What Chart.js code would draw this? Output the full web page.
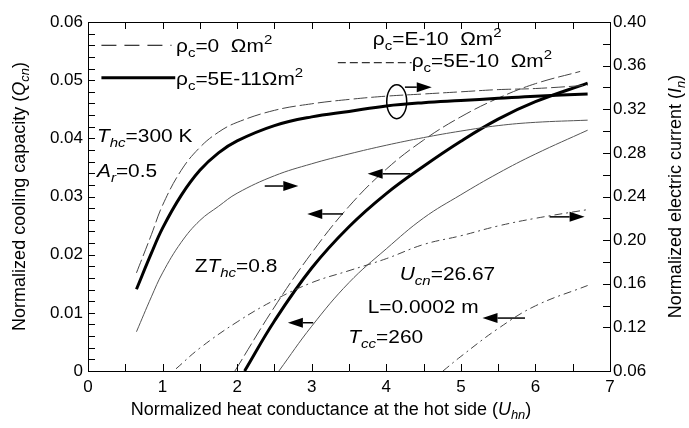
<!DOCTYPE html>
<html lang="en">
<head>
  <meta charset="UTF-8">
  <title>Cooling capacity and electric current vs heat conductance</title>
  <style>
    * { margin: 0; padding: 0; box-sizing: border-box; }
    body { background: #fff; }
    #wrap { width: 689px; height: 428px; }
  </style>
  <script src="https://cdn.jsdelivr.net/npm/chart.js"></script>
</head>
<body>
  <div id="wrap"><canvas id="chart" width="689" height="428"></canvas></div>

  <script>
    const FONT = "'Liberation Sans', Arial, sans-serif";

    // Normalized cooling capacity Q_cn (left axis), x = U_hn
    const qRho0U = [1.97, 2.5, 3.0, 3.5, 4.0, 4.5, 5.0, 5.5, 6.0, 6.6];
    const qRho0V = [0, 0.0110, 0.0203, 0.0283, 0.0347, 0.0397, 0.0437, 0.0469, 0.0494, 0.0515];

    const qRho5e11U = [2.1, 2.5, 3.0, 3.5, 4.0, 4.5, 5.0, 5.5, 6.0, 6.7];
    const qRho5e11V = [0, 0.0086, 0.0177, 0.0248, 0.0305, 0.0352, 0.0395, 0.0433, 0.0463, 0.0495];

    const qRho1e10U = [2.56, 3.0, 3.5, 4.0, 4.5, 5.0, 5.5, 6.0, 6.7];
    const qRho1e10V = [0, 0.0077, 0.0152, 0.0210, 0.0263, 0.0303, 0.0340, 0.0373, 0.0414];

    const qRho5e10U = [4.76, 5.0, 5.5, 6.0, 6.7];
    const qRho5e10V = [0, 0.0025, 0.0073, 0.0112, 0.0147];

    // Normalized electric current I_n (right axis)
    const iU = [0.65, 0.85, 1.0, 1.25, 1.5, 1.75, 2.0, 2.5, 3.0, 3.5, 4.0, 4.5, 5.0, 5.5, 6.0, 6.7];
    const iRho0V    = [0.170, 0.205, 0.232, 0.264, 0.285, 0.299, 0.308, 0.319, 0.325, 0.329, 0.332, 0.334, 0.336, 0.338, 0.339, 0.342];
    const iRho5e11V = [0.155, 0.188, 0.211, 0.241, 0.264, 0.280, 0.291, 0.305, 0.313, 0.318, 0.323, 0.326, 0.328, 0.330, 0.332, 0.334];
    const iRho1e10V = [0.116, 0.148, 0.170, 0.198, 0.218, 0.231, 0.243, 0.259, 0.270, 0.279, 0.287, 0.294, 0.300, 0.305, 0.308, 0.310];

    const iRho5e10U = [1.18, 1.5, 2.0, 2.5, 3.0, 3.5, 4.0, 4.5, 5.0, 5.5, 6.0, 6.7];
    const iRho5e10V = [0.082, 0.101, 0.125, 0.145, 0.161, 0.172, 0.183, 0.196, 0.204, 0.213, 0.220, 0.228];

    // axis ticks
    const xTicks = [0, 1, 2, 3, 4, 5, 6, 7];
    const rightTickValues = [0.08, 0.12, 0.16, 0.20, 0.24, 0.28, 0.32, 0.36, 0.40];
    const rightTickLabels = ['0.06', '0.12', '0.16', '0.20', '0.24', '0.28', '0.32', '0.36', '0.40'];

    const LONG_DASH = [14, 4];
    const DASH_DOT = [8, 4, 2, 4];

    function pts(xs, ys) {
      return xs.map((x, i) => ({ x: x, y: ys[i] }));
    }

    function line(xs, ys, axis, color, width, dash) {
      return {
        data: pts(xs, ys),
        yAxisID: axis,
        borderColor: color,
        borderWidth: width,
        borderDash: dash,
        pointRadius: 0,
        fill: false,
        tension: 0.4
      };
    }

    // text pieces: '' normal, 'i' italic, 'b' subscript, 'p' superscript
    function setFont(ctx, s, size) {
      const small = s.includes('b') || s.includes('p');
      ctx.font = (s.includes('i') ? 'italic ' : '') + (small ? size * 0.72 : size) + 'px ' + FONT;
    }

    function richWidth(ctx, parts, size) {
      let w = 0;
      for (const [t, s] of parts) {
        setFont(ctx, s, size);
        w += ctx.measureText(t).width;
      }
      return w;
    }

    function richText(ctx, x, y, parts, size, sx) {
      ctx.save();
      ctx.translate(x, y);
      ctx.scale(sx || 1, 1);
      ctx.textBaseline = 'middle';
      ctx.textAlign = 'left';
      let cx = 0;
      for (const [t, s] of parts) {
        setFont(ctx, s, size);
        let dy = 0;
        if (s.includes('b')) dy = size * 0.32;
        if (s.includes('p')) dy = -size * 0.36;
        ctx.fillText(t, cx, dy);
        cx += ctx.measureText(t).width;
      }
      ctx.restore();
    }

    function arrow(ctx, x1, y, x2) {
      const dir = x2 > x1 ? 1 : -1;
      const hl = 15, hw = 5;
      ctx.beginPath();
      ctx.moveTo(x1, y);
      ctx.lineTo(x2 - dir * hl, y);
      ctx.stroke();
      ctx.beginPath();
      ctx.moveTo(x2, y);
      ctx.lineTo(x2 - dir * hl, y - hw);
      ctx.lineTo(x2 - dir * hl, y + hw);
      ctx.closePath();
      ctx.fill();
    }

    // annotations, positioned in data units (U_hn, Q_cn)
    const texts = [
      { u: 1.18, q: 0.0557, parts: [['ρ', ''], ['c', 'b'], ['=0  Ωm', ''], ['2', 'p']] },
      { u: 1.18, q: 0.0500, parts: [['ρ', ''], ['c', 'b'], ['=5E-11Ωm', ''], ['2', 'p']] },
      { u: 3.82, q: 0.0569, parts: [['ρ', ''], ['c', 'b'], ['=E-10  Ωm', ''], ['2', 'p']] },
      { u: 4.34, q: 0.0531, parts: [['ρ', ''], ['c', 'b'], ['=5E-10  Ωm', ''], ['2', 'p']] },
      { u: 0.12, q: 0.0402, parts: [['T', 'i'], ['hc', 'bi'], ['=300 K', '']] },
      { u: 0.12, q: 0.0342, parts: [['A', 'i'], ['r', 'bi'], ['=0.5', '']] },
      { u: 1.43, q: 0.0179, parts: [['Z', ''], ['T', 'i'], ['hc', 'bi'], ['=0.8', '']] },
      { u: 4.18, q: 0.0165, parts: [['U', 'i'], ['cn', 'bi'], ['=26.67', '']] },
      { u: 3.75, q: 0.0108, parts: [['L=0.0002 m', '']] },
      { u: 3.49, q: 0.0057, parts: [['T', 'i'], ['cc', 'bi'], ['=260', '']] }
    ];
    const arrows = [
      { u1: 4.25, u2: 4.61, q: 0.0488 },
      { u1: 2.37, u2: 2.82, q: 0.0318 },
      { u1: 3.42, u2: 2.94, q: 0.0270 },
      { u1: 4.32, u2: 3.75, q: 0.0339 },
      { u1: 3.02, u2: 2.68, q: 0.0083 },
      { u1: 6.19, u2: 6.66, q: 0.0265 },
      { u1: 5.86, u2: 5.29, q: 0.0091 }
    ];
    const legendLines = [
      { u1: 0.18, u2: 1.12, q: 0.0560, width: 1, dash: [15, 8] },
      { u1: 0.18, u2: 1.17, q: 0.0504, width: 3, dash: [] },
      { u1: 3.35, u2: 4.34, q: 0.0530, width: 1, dash: [8, 4] }
    ];

    const decorPlugin = {
      id: 'decor',
      afterDatasetsDraw(chart) {
        const ctx = chart.ctx;
        const a = chart.chartArea;
        const xs = chart.scales.x, ys = chart.scales.y, ys1 = chart.scales.y1;
        const X = v => xs.getPixelForValue(v);
        const Y = v => ys.getPixelForValue(v);
        ctx.save();
        ctx.strokeStyle = '#000';
        ctx.fillStyle = '#000';
        ctx.lineWidth = 1;

        // top frame line
        ctx.beginPath();
        ctx.moveTo(a.left, a.top + 0.5);
        ctx.lineTo(a.right, a.top + 0.5);
        ctx.stroke();

        // inward tick marks
        ctx.beginPath();
        for (let v = 0.5; v < 7; v += 0.5) {
          const px = Math.round(X(v)) + 0.5;
          ctx.moveTo(px, a.bottom); ctx.lineTo(px, a.bottom - 7);
          ctx.moveTo(px, a.top); ctx.lineTo(px, a.top + 7);
        }
        for (let k = 1; k < 30; k++) {
          const py = Math.round(Y(k * 0.002)) + 0.5;
          ctx.moveTo(a.left, py); ctx.lineTo(a.left + 7, py);
        }
        for (let k = 6; k < 20; k++) {
          const py = Math.round(ys1.getPixelForValue(k * 0.02)) + 0.5;
          ctx.moveTo(a.right, py); ctx.lineTo(a.right - 7, py);
        }
        ctx.stroke();

        // legend samples
        for (const l of legendLines) {
          ctx.lineWidth = l.width;
          ctx.setLineDash(l.dash);
          ctx.beginPath();
          ctx.moveTo(X(l.u1), Y(l.q));
          ctx.lineTo(X(l.u2), Y(l.q));
          ctx.stroke();
        }
        ctx.setLineDash([]);

        // ellipse grouping the top current curves
        ctx.lineWidth = 1.5;
        ctx.beginPath();
        ctx.ellipse(X(4.14), Y(0.0463), 10, 17, 0, 0, Math.PI * 2);
        ctx.stroke();

        for (const ar of arrows) arrow(ctx, X(ar.u1), Y(ar.q), X(ar.u2));

        for (const t of texts) richText(ctx, X(t.u), Y(t.q), t.parts, 19, 1.1);

        // axis titles
        const size = 18;
        const leftTitle = [['Normalized cooling capacity (', ''], ['Q', 'i'], ['cn', 'bi'], [')', '']];
        const rightTitle = [['Normalized electric current (', ''], ['I', 'i'], ['n', 'bi'], [')', '']];
        const bottomTitle = [['Normalized heat conductance at the hot side (', ''], ['U', 'i'], ['hn', 'bi'], [')', '']];

        let w = richWidth(ctx, leftTitle, size);
        ctx.save();
        ctx.translate(20, (a.top + a.bottom) / 2);
        ctx.rotate(-Math.PI / 2);
        richText(ctx, -w / 2, 0, leftTitle, size);
        ctx.restore();

        w = richWidth(ctx, rightTitle, size);
        ctx.save();
        ctx.translate(676, (a.top + a.bottom) / 2);
        ctx.rotate(-Math.PI / 2);
        richText(ctx, -w / 2, 0, rightTitle, size);
        ctx.restore();

        w = richWidth(ctx, bottomTitle, size);
        richText(ctx, 331 - w / 2, 410, bottomTitle, size);

        ctx.restore();
      }
    };

    new Chart(document.getElementById('chart'), {
      type: 'line',
      data: {
        datasets: [
          line(iU, iRho0V, 'y1', '#444', 1, LONG_DASH),
          line(iU, iRho5e11V, 'y1', '#000', 3, []),
          line(iU, iRho1e10V, 'y1', '#555', 1, []),
          line(iRho5e10U, iRho5e10V, 'y1', '#444', 1, DASH_DOT),
          line(qRho0U, qRho0V, 'y', '#444', 1, LONG_DASH),
          line(qRho5e11U, qRho5e11V, 'y', '#000', 3, []),
          line(qRho1e10U, qRho1e10V, 'y', '#555', 1, []),
          line(qRho5e10U, qRho5e10V, 'y', '#444', 1, DASH_DOT)
        ]
      },
      options: {
        responsive: false,
        animation: false,
        devicePixelRatio: 1,
        layout: { padding: { top: 22, left: 0, right: 0, bottom: 0 } },
        plugins: { legend: { display: false }, tooltip: { enabled: false } },
        scales: {
          x: {
            type: 'linear',
            min: 0,
            max: 7,
            afterBuildTicks: s => { s.ticks = xTicks.map(v => ({ value: v })); },
            afterFit: s => { s.height = 57; },
            grid: { display: false, drawTicks: false },
            border: { display: true, color: '#000', width: 1 },
            ticks: { color: '#000', padding: 6, font: { family: FONT, size: 17 } }
          },
          y: {
            position: 'left',
            min: 0,
            max: 0.06,
            afterFit: s => { s.width = 88; },
            grid: { display: false, drawTicks: false },
            border: { display: true, color: '#000', width: 1 },
            ticks: {
              stepSize: 0.01,
              color: '#000',
              padding: 5,
              font: { family: FONT, size: 17 },
              callback: v => (v === 0 ? '0' : v.toFixed(2))
            }
          },
          y1: {
            position: 'right',
            min: 0.08,
            max: 0.40,
            afterBuildTicks: s => { s.ticks = rightTickValues.map(v => ({ value: v })); },
            afterFit: s => { s.width = 79; },
            grid: { display: false, drawTicks: false },
            border: { display: true, color: '#000', width: 1 },
            ticks: {
              color: '#000',
              padding: 3,
              font: { family: FONT, size: 17 },
              callback: (v, i) => rightTickLabels[i]
            }
          }
        }
      },
      plugins: [decorPlugin]
    });
  </script>
</body>
</html>
